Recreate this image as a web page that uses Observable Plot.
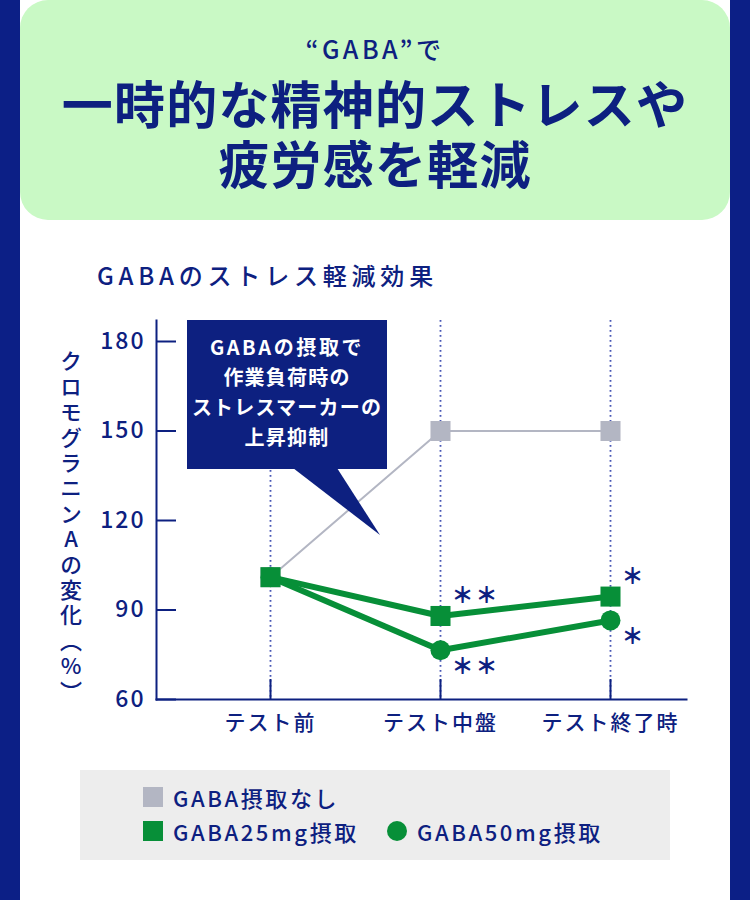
<!DOCTYPE html>
<html><head><meta charset="utf-8">
<script src="https://cdn.jsdelivr.net/npm/d3@7"></script>
<script src="https://cdn.jsdelivr.net/npm/@observablehq/plot@0.6"></script>
<style>
html,body{margin:0;padding:0;}
body{font-family:"Noto Sans CJK JP","Noto Sans",sans-serif;color:#0d2080;}
#page{position:relative;width:750px;height:900px;background:#0c1f86;overflow:hidden;}
#panel{position:absolute;left:20px;top:0;width:710px;height:900px;background:#fff;}
#header{position:absolute;left:20px;top:0;width:710px;height:220px;background:#c9f9c5;border-radius:28px;}
.c{position:absolute;left:0;width:750px;text-align:center;white-space:nowrap;}
#pre{top:31px;font-size:25px;line-height:34px;font-weight:500;letter-spacing:3.5px;}
#title{top:72px;font-size:51px;line-height:60px;font-weight:700;letter-spacing:1.2px;}
#sub{position:absolute;left:97px;top:259px;font-size:24px;line-height:32px;font-weight:500;letter-spacing:4.8px;white-space:nowrap;}
#ylab{position:absolute;left:55px;top:350px;font-size:22px;font-weight:500;writing-mode:vertical-rl;text-orientation:upright;letter-spacing:3.4px;white-space:nowrap;}
#chart{position:absolute;left:0;top:300px;}
#chart text{letter-spacing:2px;}
#callout{position:absolute;left:187px;top:320px;width:200px;height:149px;background:#0d2080;color:#fff;font-weight:700;font-size:20px;line-height:30px;text-align:center;box-sizing:border-box;padding-top:12px;white-space:nowrap;letter-spacing:1.2px;}
#callout .l0{letter-spacing:2.6px;}
#tail{position:absolute;left:0;top:0;}
#legend{position:absolute;left:80px;top:770px;width:590px;height:90px;background:#ededed;font-size:22px;font-weight:500;letter-spacing:2.6px;}
.li{position:absolute;display:flex;align-items:center;white-space:nowrap;}
.sw{width:20px;height:20px;margin-right:10px;}
</style></head>
<body>
<div id="page">
  <div id="panel"></div>
  <div id="header"></div>
  <div class="c" id="pre"></div>
  <div class="c" id="title"></div>
  <div id="sub"></div>
  <div id="chart"></div>
  <svg id="tail" width="750" height="900"><polygon points="293,468 337,468 380,535" fill="#0d2080"/></svg>
  <div id="callout"></div>
  <div id="ylab"></div>
  <div id="legend"></div>
</div>
<script>
// ---- data ----
const preTitle = "“GABA”で";
const titleLines = ["一時的な精神的ストレスや", "疲労感を軽減"];
const subtitle = "GABAのストレス軽減効果";
const yLabel = "クロモグラニンAの変化（%）";
const calloutLines = ["GABAの摂取で", "作業負荷時の", "ストレスマーカーの", "上昇抑制"];
const stages = ["テスト前", "テスト中盤", "テスト終了時"];
const yTicks = [60, 90, 120, 150, 180];
const seriesNames = ["GABA摂取なし", "GABA25mg摂取", "GABA50mg摂取"];
const seriesColors = ["#b3b6c3", "#078f38", "#078f38"];
const valsNone = [101, 150, 150];
const vals25 = [101, 88, 94.5];
const vals50 = [101, 76.5, 86.5];
const sigAbove = [{stage: "テスト中盤", v: 88, mark: "＊＊"}, {stage: "テスト終了時", v: 94.5, mark: "＊"}];
const sigBelow = [{stage: "テスト中盤", v: 76.5, mark: "＊＊"}, {stage: "テスト終了時", v: 86.5, mark: "＊"}];

// ---- text ----
document.getElementById("pre").textContent = preTitle;
const titleEl = document.getElementById("title");
titleLines.forEach((l, i) => { if (i) titleEl.appendChild(document.createElement("br")); titleEl.appendChild(document.createTextNode(l)); });
document.getElementById("sub").textContent = subtitle;
document.getElementById("ylab").textContent = yLabel;
document.getElementById("callout").innerHTML = calloutLines.map((l, i) => `<div class="l${i}">${l}</div>`).join("");

const toRows = (name, vals) => vals.map((v, i) => ({series: name, stage: stages[i], v}));
const rowsNone = toRows(seriesNames[0], valsNone);
const rows25 = toRows(seriesNames[1], vals25);
const rows50 = toRows(seriesNames[2], vals50);

const navy = "#0d2080";
const fontFamily = '"Noto Sans CJK JP","Noto Sans",sans-serif';

const chart = Plot.plot({
  width: 750, height: 450,
  marginLeft: 156, marginRight: 64, marginTop: 20, marginBottom: 51,
  x: {type: "point", domain: stages, range: [270, 610], padding: 0, label: null},
  y: {domain: [60, 180], range: [399, 41], label: null},
  style: {fontFamily, color: navy, background: "transparent", overflow: "visible"},
  marks: [
    Plot.ruleX(stages, {stroke: "#4656b5", strokeWidth: 1.8, strokeDasharray: "1.8,3.2"}),
    Plot.axisX({tickSize: -20, tickFormat: () => "", stroke: navy, strokeWidth: 2, strokeOpacity: 1, label: null}),
    Plot.axisX({tickSize: 0, tickPadding: 16, fontSize: 21, fontWeight: 500, fill: navy, label: null}),
    Plot.axisY({ticks: yTicks, tickSize: -20, tickFormat: () => "", stroke: navy, strokeWidth: 2, strokeOpacity: 1, label: null}),
    Plot.axisY({ticks: yTicks, tickSize: 0, tickPadding: 11, fontSize: 23, fontWeight: 500, fill: navy, label: null}),
    Plot.frame({anchor: "left", stroke: navy, strokeWidth: 2}),
    Plot.frame({anchor: "bottom", stroke: navy, strokeWidth: 2}),
    Plot.line(rowsNone, {x: "stage", y: "v", stroke: seriesColors[0], strokeWidth: 2}),
    Plot.dot(rowsNone, {x: "stage", y: "v", symbol: "square", r: 11.3, fill: seriesColors[0], stroke: "none"}),
    Plot.line(rows50, {x: "stage", y: "v", stroke: seriesColors[2], strokeWidth: 6}),
    Plot.line(rows25, {x: "stage", y: "v", stroke: seriesColors[1], strokeWidth: 6}),
    Plot.dot(rows50, {x: "stage", y: "v", symbol: "circle", r: 10, fill: seriesColors[2], stroke: "none"}),
    Plot.dot(rows25, {x: "stage", y: "v", symbol: "square", r: 11.3, fill: seriesColors[1], stroke: "none"}),
    Plot.text(sigAbove, {x: "stage", y: "v", text: "mark", dx: 11, dy: -20, textAnchor: "start", lineAnchor: "middle", fontSize: 22, fontWeight: 900, fill: navy}),
    Plot.text(sigBelow, {x: "stage", y: "v", text: "mark", dx: 11, dy: 17, textAnchor: "start", lineAnchor: "middle", fontSize: 22, fontWeight: 900, fill: navy})
  ]
});
document.getElementById("chart").appendChild(chart);

// ---- legend ----
const leg = document.getElementById("legend");
const items = [
  {name: seriesNames[0], color: seriesColors[0], shape: "square", left: 63, top: 13},
  {name: seriesNames[1], color: seriesColors[1], shape: "square", left: 63, top: 47},
  {name: seriesNames[2], color: seriesColors[2], shape: "circle", left: 307, top: 47}
];
items.forEach(it => {
  const d = document.createElement("div");
  d.className = "li";
  d.style.left = it.left + "px";
  d.style.top = it.top + "px";
  d.style.height = "28px";
  const sw = document.createElement("div");
  sw.className = "sw";
  sw.style.background = it.color;
  if (it.shape === "circle") sw.style.borderRadius = "50%";
  const t = document.createElement("span");
  t.textContent = it.name;
  d.appendChild(sw); d.appendChild(t);
  leg.appendChild(d);
});
</script>
</body></html>
